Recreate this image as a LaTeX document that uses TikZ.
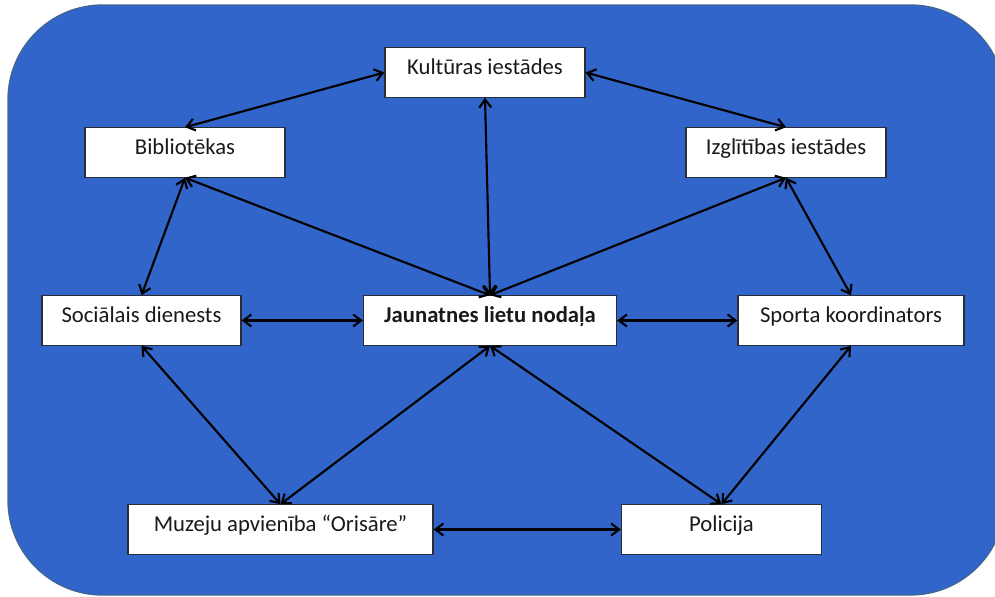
\documentclass[tikz,border=0pt]{standalone}
\usepackage{fontspec}
\setmainfont{Carlito}
\usetikzlibrary{arrows.meta}
\definecolor{bgblue}{RGB}{50,101,202}
\definecolor{bgborder}{RGB}{65,100,150}
\definecolor{boxborder}{RGB}{40,45,55}
\begin{document}
\begin{tikzpicture}[x=0.75pt,y=-0.75pt,
  box/.style={draw=boxborder,line width=0.9pt,fill=white,inner sep=0pt,
    text height=12pt,text depth=8.6pt,
    minimum height=37pt,font=\fontsize{17}{20}\selectfont,text=black!90},
  conn/.style={line width=1.6pt,black,{Straight Barb[length=6pt,width=9pt]}-{Straight Barb[length=6pt,width=9pt]}}]
\useasboundingbox (0,0) rectangle (995,596);
\draw[fill=bgblue,draw=bgborder,line width=1pt,rounded corners=71pt] (8,5) rectangle (1005,595);
\node[box,minimum width=150pt] (kult) at (485,72.5) {Kultūras iestādes};
\node[box,minimum width=150pt] (bib) at (185,152.5) {Bibliotēkas};
\node[box,minimum width=150pt] (izgl) at (786,152.5) {Izglītības iestādes};
\node[box,minimum width=149.25pt] (soc) at (141.5,320.5) {Sociālais dienests};
\node[box,minimum width=189.75pt,font=\fontsize{17}{20}\selectfont\bfseries] (jaun) at (490,320.5) {Jaunatnes lietu nodaļa};
\node[box,minimum width=169.5pt] (sport) at (851,320.5) {Sporta koordinators};
\node[box,minimum width=228.75pt] (muz) at (280.5,529.5) {Muzeju apvienība “Orisāre”};
\node[box,minimum width=150pt] (pol) at (721.5,529.5) {Policija};
\draw[conn] (bib.north) -- (kult.west);
\draw[conn] (kult.east) -- (izgl.north);
\draw[conn] (kult.south) -- (jaun.north);
\draw[conn] (bib.south) -- (soc.north);
\draw[conn] (bib.south) -- (jaun.north);
\draw[conn] (izgl.south) -- (jaun.north);
\draw[conn] (izgl.south) -- (sport.north);
\draw[conn] (soc.east) -- (jaun.west);
\draw[conn] (jaun.east) -- (sport.west);
\draw[conn] (soc.south) -- (muz.north);
\draw[conn] (jaun.south) -- (muz.north);
\draw[conn] (jaun.south) -- (pol.north);
\draw[conn] (sport.south) -- (pol.north);
\draw[conn] (muz.east) -- (pol.west);
\end{tikzpicture}
\end{document}
